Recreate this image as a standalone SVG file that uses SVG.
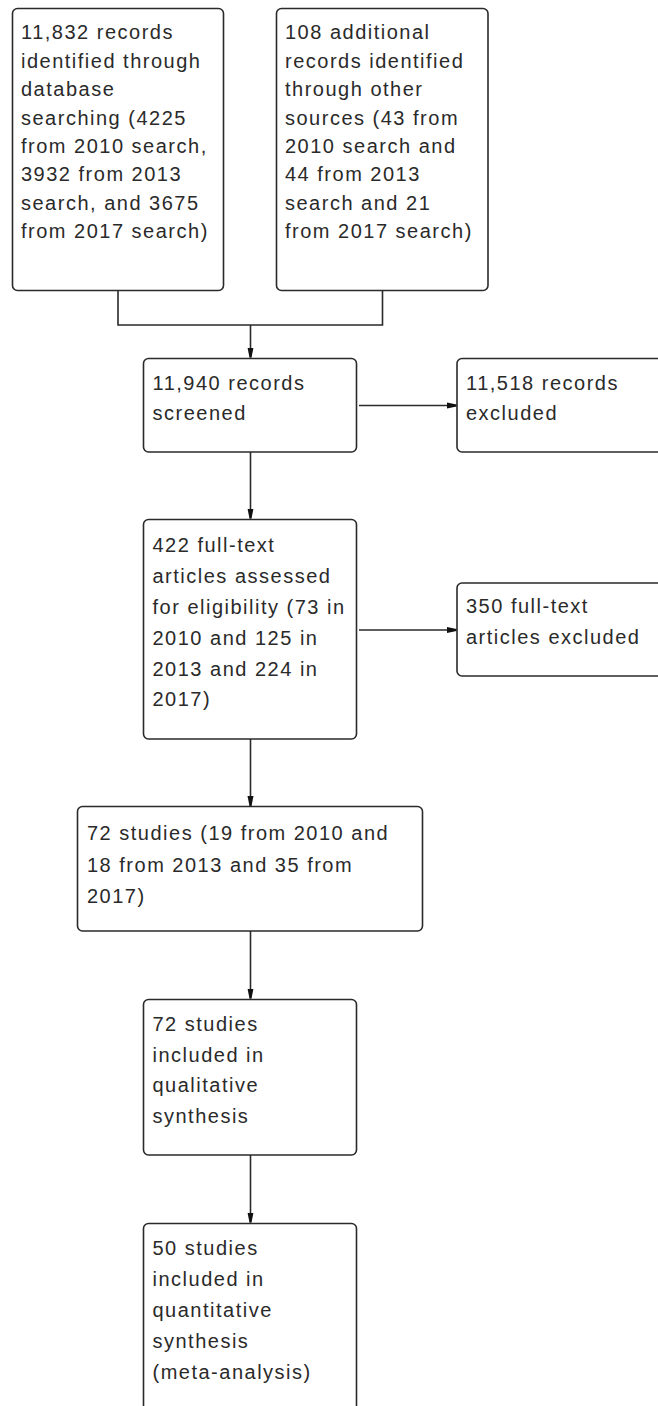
<svg xmlns="http://www.w3.org/2000/svg" width="658" height="1406" viewBox="0 0 658 1406">
<style>
.box{fill:#fff;stroke:#2a2a2a;stroke-width:1.6}
.t{font-family:"Liberation Sans",Arial,sans-serif;font-size:20px;letter-spacing:1.5px;fill:#2a2a2a}
.c{fill:none;stroke:#2a2a2a;stroke-width:1.6}
</style>
<defs>
<marker id="ah" markerUnits="userSpaceOnUse" markerWidth="10" markerHeight="8" refX="10" refY="4" orient="auto">
<path d="M0,1 L10,3 L10,5 L0,7 z" fill="#111"/>
</marker>
</defs>
<rect width="658" height="1406" fill="#fff"/>
<g id="connectors">
<path class="c" d="M118,290.5 V325 H382.5 V290.5"/>
<path class="c" d="M250.5,325 V357.5" marker-end="url(#ah)"/>
<path class="c" d="M359,405.5 H456.5" marker-end="url(#ah)"/>
<path class="c" d="M250.5,452 V518.5" marker-end="url(#ah)"/>
<path class="c" d="M359,630 H456.5" marker-end="url(#ah)"/>
<path class="c" d="M250.5,739 V806" marker-end="url(#ah)"/>
<path class="c" d="M250.5,931 V998.5" marker-end="url(#ah)"/>
<path class="c" d="M250.5,1155 V1222.5" marker-end="url(#ah)"/>
</g>
<g id="n1">
<rect class="box" x="12.5" y="8.5" width="211" height="282" rx="5"/>
<text class="t" x="21">
<tspan x="21" y="39.3">11,832 records</tspan>
<tspan x="21" y="67.7">identified through</tspan>
<tspan x="21" y="96.1">database</tspan>
<tspan x="21" y="124.5">searching (4225</tspan>
<tspan x="21" y="152.9">from 2010 search,</tspan>
<tspan x="21" y="181.3">3932 from 2013</tspan>
<tspan x="21" y="209.7">search, and 3675</tspan>
<tspan x="21" y="238.1">from 2017 search)</tspan>
</text>
</g>
<g id="n2">
<rect class="box" x="276.5" y="8.5" width="211.5" height="282" rx="5"/>
<text class="t">
<tspan x="285" y="39.3">108 additional</tspan>
<tspan x="285" y="67.7">records identified</tspan>
<tspan x="285" y="96.1">through other</tspan>
<tspan x="285" y="124.5">sources (43 from</tspan>
<tspan x="285" y="152.9">2010 search and</tspan>
<tspan x="285" y="181.3">44 from 2013</tspan>
<tspan x="285" y="209.7">search and 21</tspan>
<tspan x="285" y="238.1">from 2017 search)</tspan>
</text>
</g>
<g id="n3">
<rect class="box" x="143.5" y="358.5" width="213" height="93.5" rx="5"/>
<text class="t">
<tspan x="152.5" y="390">11,940 records</tspan>
<tspan x="152.5" y="420">screened</tspan>
</text>
</g>
<g id="n4">
<rect class="box" x="457" y="358.5" width="213" height="93.5" rx="5"/>
<text class="t">
<tspan x="466" y="390">11,518 records</tspan>
<tspan x="466" y="420">excluded</tspan>
</text>
</g>
<g id="n5">
<rect class="box" x="143.5" y="519.5" width="213" height="219.5" rx="5"/>
<text class="t">
<tspan x="152.5" y="552.3">422 full-text</tspan>
<tspan x="152.5" y="583.1">articles assessed</tspan>
<tspan x="152.5" y="613.9">for eligibility (73 in</tspan>
<tspan x="152.5" y="644.7">2010 and 125 in</tspan>
<tspan x="152.5" y="675.5">2013 and 224 in</tspan>
<tspan x="152.5" y="706.3">2017)</tspan>
</text>
</g>
<g id="n6">
<rect class="box" x="457" y="583" width="213" height="93" rx="5"/>
<text class="t">
<tspan x="466" y="613.3">350 full-text</tspan>
<tspan x="466" y="644">articles excluded</tspan>
</text>
</g>
<g id="n7">
<rect class="box" x="77.5" y="806.5" width="345" height="124.5" rx="5"/>
<text class="t">
<tspan x="87" y="840">72 studies (19 from 2010 and</tspan>
<tspan x="87" y="871.7">18 from 2013 and 35 from</tspan>
<tspan x="87" y="903.3">2017)</tspan>
</text>
</g>
<g id="n8">
<rect class="box" x="143.5" y="999.5" width="213" height="155.5" rx="5"/>
<text class="t">
<tspan x="152.5" y="1030.7">72 studies</tspan>
<tspan x="152.5" y="1061.7">included in</tspan>
<tspan x="152.5" y="1092.2">qualitative</tspan>
<tspan x="152.5" y="1123.3">synthesis</tspan>
</text>
</g>
<g id="n9">
<rect class="box" x="143.5" y="1223.5" width="213" height="200" rx="5"/>
<text class="t">
<tspan x="152.5" y="1255">50 studies</tspan>
<tspan x="152.5" y="1285.8">included in</tspan>
<tspan x="152.5" y="1316.7">quantitative</tspan>
<tspan x="152.5" y="1348">synthesis</tspan>
<tspan x="152.5" y="1379.3">(meta-analysis)</tspan>
</text>
</g>
</svg>
